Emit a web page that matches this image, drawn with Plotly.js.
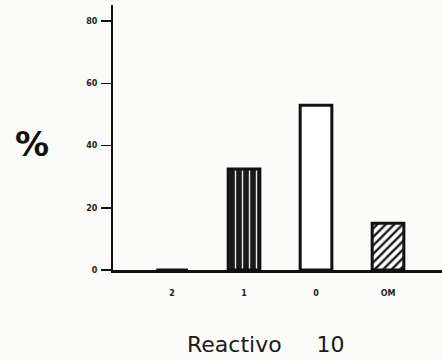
<!DOCTYPE html>
<html>
<head>
<meta charset="utf-8">
<script src="https://cdn.plot.ly/plotly-3.0.1.min.js"></script>
<style>
  html, body { margin: 0; padding: 0; background: #fbfbfa; }
  #chart { width: 442px; height: 361px; }
</style>
</head>
<body>
<div id="chart"></div>
<script>
// Data
var categories = ['2', '1', '0', 'OM'];
var positions = [0, 1, 2, 3];
var percentages = [0, 32.5, 53, 15];
var yTickValues = [0, 20, 40, 60, 80];

// Styles (kept separate from data)
var fillColors = ['#ffffff', '#1a1a1a', '#ffffff', '#ffffff'];
var patternShapes = ['', '|', '', '/'];
var patternBg = ['#ffffff', '#1a1a1a', '#ffffff', '#ffffff'];
var patternFg = ['#ffffff', '#e8e8e8', '#ffffff', '#1a1a1a'];
var patternSolidity = [0.3, 0.2, 0.3, 0.4];
var patternSize = [5, 7, 5, 6];

var traces = positions.map(function (p, i) {
  var marker = {
    color: fillColors[i],
    line: { color: '#111111', width: 3 }
  };
  if (patternShapes[i]) {
    marker.pattern = {
      shape: patternShapes[i],
      bgcolor: patternBg[i],
      fgcolor: patternFg[i],
      size: patternSize[i],
      solidity: patternSolidity[i],
      fillmode: 'replace'
    };
  }
  return {
    type: 'bar',
    x: [p],
    y: [percentages[i]],
    name: categories[i],
    width: 0.44,
    marker: marker,
    hoverinfo: 'skip'
  };
});

var layout = {
  width: 442,
  height: 361,
  autosize: false,
  margin: { l: 113, r: 0, t: 5, b: 91, pad: 0 },
  paper_bgcolor: '#fbfbfa',
  plot_bgcolor: '#fbfbfa',
  showlegend: false,
  barmode: 'overlay',
  xaxis: {
    range: [-0.82, 3.75],
    tickvals: positions,
    ticktext: categories,
    ticks: '',
    showgrid: false,
    zeroline: false,
    showline: true,
    linecolor: '#111111',
    linewidth: 2.5,
    ticklabelstandoff: 14,
    tickfont: { family: 'DejaVu Sans', size: 8, color: '#222222', weight: 'bold' },
    fixedrange: true
  },
  yaxis: {
    range: [0, 85.2],
    tickvals: yTickValues,
    ticktext: yTickValues.map(String),
    ticks: 'outside',
    ticklen: 10,
    tickwidth: 1.5,
    tickcolor: '#111111',
    showgrid: false,
    zeroline: false,
    showline: true,
    linecolor: '#111111',
    linewidth: 2,
    ticklabelstandoff: 2,
    tickfont: { family: 'DejaVu Sans', size: 8, color: '#222222', weight: 'bold' },
    fixedrange: true
  },
  annotations: [
    {
      text: '%',
      xref: 'paper', yref: 'paper',
      x: -0.246, y: 0.475,
      xanchor: 'center', yanchor: 'middle',
      showarrow: false,
      font: { family: 'DejaVu Sans', size: 34, color: '#111111', weight: 'bold' }
    },
    {
      text: 'Reactivo\u00a0\u00a0\u00a0\u00a0\u00a010',
      xref: 'paper', yref: 'paper',
      x: 0.22, y: -0.283,
      xanchor: 'left', yanchor: 'middle',
      showarrow: false,
      font: { family: 'DejaVu Sans', size: 22, color: '#1a1a1a' }
    }
  ]
};

Plotly.newPlot('chart', traces, layout, { staticPlot: true, displayModeBar: false });
</script>
</body>
</html>
